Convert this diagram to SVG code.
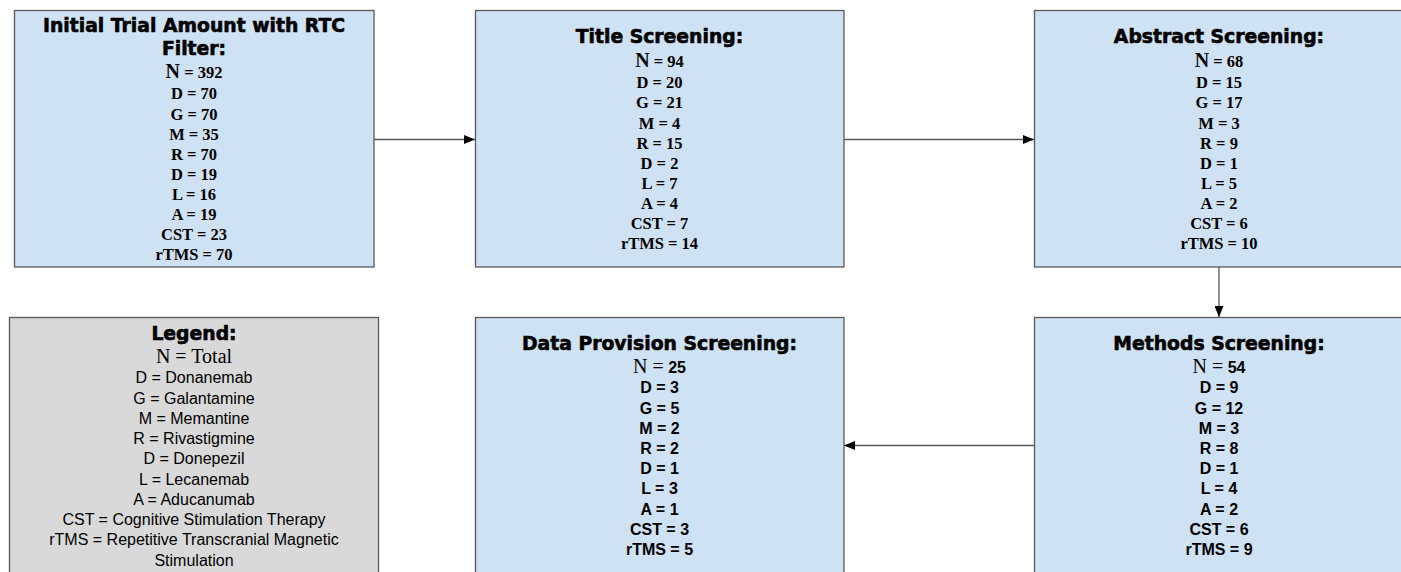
<svg xmlns="http://www.w3.org/2000/svg" width="1401" height="572" viewBox="0 0 1401 572">
<style>
.box{fill:#cfe2f3;stroke:#595959;stroke-width:1.3}
.leg{fill:#d9d9d9;stroke:#595959;stroke-width:1.3}
.ttl{font-family:"DejaVu Sans",sans-serif;font-weight:bold;font-size:18.8px;fill:#000;stroke:#000;stroke-width:0.6;text-anchor:middle}
.sv{font-family:"Liberation Serif",serif;font-weight:bold;font-size:16.5px;fill:#000;text-anchor:middle}
.nn{font-family:"Liberation Serif",serif;font-size:20px}
.ss{font-family:"Liberation Sans",sans-serif;font-weight:bold;font-size:16px;fill:#000;text-anchor:middle}
.lg{font-family:"Liberation Sans",sans-serif;font-size:16px;fill:#000;text-anchor:middle}
.con{stroke:#595959;stroke-width:1.3;fill:none}
</style>
<defs>
<marker id="ah" markerWidth="11" markerHeight="9" refX="11" refY="4.5" orient="auto" markerUnits="userSpaceOnUse">
<path d="M0,0 L11,4.5 L0,9 Z" fill="#000"/>
</marker>
</defs>
<rect width="1401" height="572" fill="#fff"/>

<g id="connectors">
<line class="con" x1="374" y1="139.5" x2="475" y2="139.5" marker-end="url(#ah)"/>
<line class="con" x1="844" y1="139.5" x2="1034" y2="139.5" marker-end="url(#ah)"/>
<line class="con" x1="1219" y1="267" x2="1219" y2="317" marker-end="url(#ah)"/>
<line class="con" x1="1034" y1="445.5" x2="844" y2="445.5" marker-end="url(#ah)"/>
</g>

<g id="initial">
<rect class="box" x="14.5" y="10.5" width="359.5" height="256.5"/>
<text class="ttl" x="194" y="31.5">Initial Trial Amount with RTC</text>
<text class="ttl" x="194" y="55">Filter:</text>
<text class="sv" x="194" y="78"><tspan class="nn">N</tspan> = 392</text>
<text class="sv" x="194" y="99.3">D = 70</text>
<text class="sv" x="194" y="119.5">G = 70</text>
<text class="sv" x="194" y="139.6">M = 35</text>
<text class="sv" x="194" y="159.7">R = 70</text>
<text class="sv" x="194" y="179.8">D = 19</text>
<text class="sv" x="194" y="199.9">L = 16</text>
<text class="sv" x="194" y="220">A = 19</text>
<text class="sv" x="194" y="240.1">CST = 23</text>
<text class="sv" x="194" y="260.2">rTMS = 70</text>
</g>

<g id="title">
<rect class="box" x="475.5" y="10.5" width="368.5" height="256.5"/>
<text class="ttl" x="659.5" y="43.3">Title Screening:</text>
<text class="sv" x="659.5" y="66.7"><tspan class="nn">N</tspan> = 94</text>
<text class="sv" x="659.5" y="88.3">D = 20</text>
<text class="sv" x="659.5" y="108.4">G = 21</text>
<text class="sv" x="659.5" y="128.5">M = 4</text>
<text class="sv" x="659.5" y="148.6">R = 15</text>
<text class="sv" x="659.5" y="168.7">D = 2</text>
<text class="sv" x="659.5" y="188.8">L = 7</text>
<text class="sv" x="659.5" y="208.9">A = 4</text>
<text class="sv" x="659.5" y="229">CST = 7</text>
<text class="sv" x="659.5" y="249.1">rTMS = 14</text>
</g>

<g id="abstract">
<rect class="box" x="1034.5" y="10.5" width="370" height="256.5"/>
<text class="ttl" x="1219" y="43.3">Abstract Screening:</text>
<text class="sv" x="1219" y="66.7"><tspan class="nn">N</tspan> = 68</text>
<text class="sv" x="1219" y="88.3">D = 15</text>
<text class="sv" x="1219" y="108.4">G = 17</text>
<text class="sv" x="1219" y="128.5">M = 3</text>
<text class="sv" x="1219" y="148.6">R = 9</text>
<text class="sv" x="1219" y="168.7">D = 1</text>
<text class="sv" x="1219" y="188.8">L = 5</text>
<text class="sv" x="1219" y="208.9">A = 2</text>
<text class="sv" x="1219" y="229">CST = 6</text>
<text class="sv" x="1219" y="249.1">rTMS = 10</text>
</g>

<g id="legend">
<rect class="leg" x="9.5" y="317.5" width="369" height="270"/>
<text class="ttl" x="194" y="340">Legend:</text>
<text class="lg" x="194" y="363.3"><tspan class="nn">N = Total</tspan></text>
<text class="lg" x="194" y="383.3">D = Donanemab</text>
<text class="lg" x="194" y="403.6">G = Galantamine</text>
<text class="lg" x="194" y="423.8">M = Memantine</text>
<text class="lg" x="194" y="444.1">R = Rivastigmine</text>
<text class="lg" x="194" y="464.4">D = Donepezil</text>
<text class="lg" x="194" y="484.6">L = Lecanemab</text>
<text class="lg" x="194" y="504.9">A = Aducanumab</text>
<text class="lg" x="194" y="525.1">CST = Cognitive Stimulation Therapy</text>
<text class="lg" x="194" y="545.4">rTMS = Repetitive Transcranial Magnetic</text>
<text class="lg" x="194" y="565.7">Stimulation</text>
</g>

<g id="data-provision">
<rect class="box" x="475.5" y="317.5" width="368.5" height="270"/>
<text class="ttl" x="659.5" y="350">Data Provision Screening:</text>
<text class="ss" x="659.5" y="372.7"><tspan class="nn" font-weight="normal">N =</tspan> 25</text>
<text class="ss" x="659.5" y="393.3">D = 3</text>
<text class="ss" x="659.5" y="413.5">G = 5</text>
<text class="ss" x="659.5" y="433.7">M = 2</text>
<text class="ss" x="659.5" y="453.9">R = 2</text>
<text class="ss" x="659.5" y="474.1">D = 1</text>
<text class="ss" x="659.5" y="494.3">L = 3</text>
<text class="ss" x="659.5" y="514.5">A = 1</text>
<text class="ss" x="659.5" y="534.7">CST = 3</text>
<text class="ss" x="659.5" y="554.9">rTMS = 5</text>
</g>

<g id="methods">
<rect class="box" x="1034.5" y="317.5" width="370" height="270"/>
<text class="ttl" x="1219" y="350">Methods Screening:</text>
<text class="ss" x="1219" y="372.7"><tspan class="nn" font-weight="normal">N =</tspan> 54</text>
<text class="ss" x="1219" y="393.3">D = 9</text>
<text class="ss" x="1219" y="413.5">G = 12</text>
<text class="ss" x="1219" y="433.7">M = 3</text>
<text class="ss" x="1219" y="453.9">R = 8</text>
<text class="ss" x="1219" y="474.1">D = 1</text>
<text class="ss" x="1219" y="494.3">L = 4</text>
<text class="ss" x="1219" y="514.5">A = 2</text>
<text class="ss" x="1219" y="534.7">CST = 6</text>
<text class="ss" x="1219" y="554.9">rTMS = 9</text>
</g>
</svg>
